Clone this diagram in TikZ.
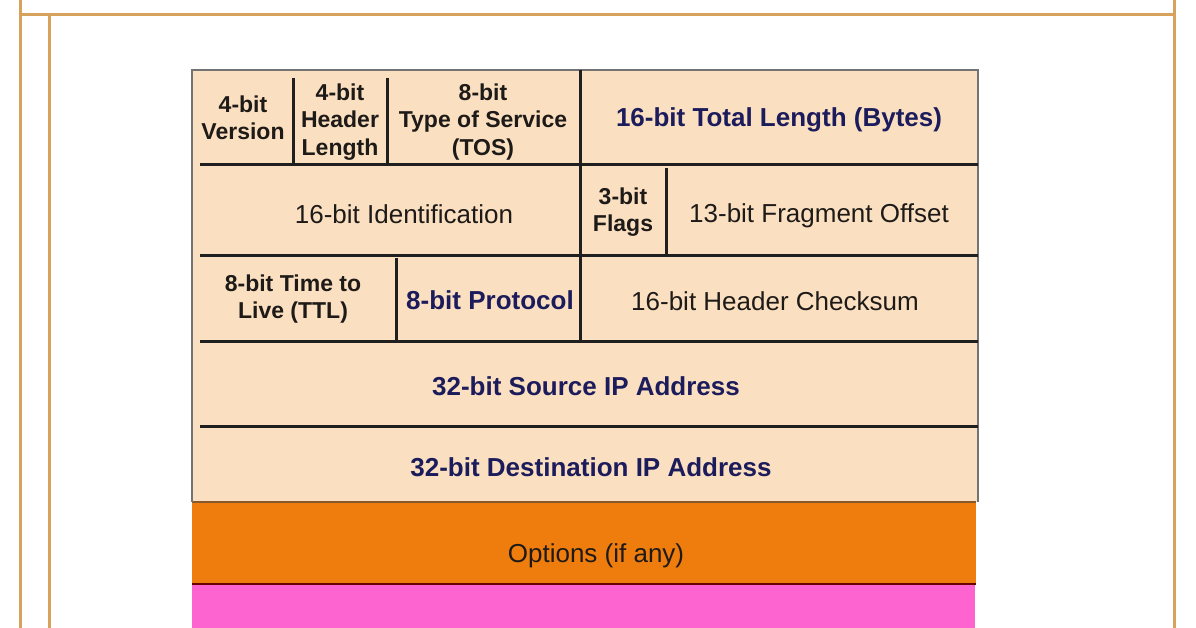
\documentclass[tikz,border=0pt]{standalone}
\usepackage{fontspec}
\setmainfont{Liberation Sans}
\definecolor{hdrfill}{RGB}{250,224,193}
\definecolor{optfill}{RGB}{239,125,14}
\definecolor{padfill}{RGB}{254,100,208}
\definecolor{framecol}{RGB}{215,162,92}
\definecolor{navytext}{RGB}{28,28,92}
\definecolor{darktext}{RGB}{30,26,24}
\begin{document}
\begin{tikzpicture}[x=1pt,y=-1pt,
    frame/.style={draw=framecol,line width=3pt},
    sep/.style={draw=black!88,line width=3pt},
    edge/.style={draw=black!55,line width=2pt},
    plain/.style={inner sep=0pt,text=darktext,font=\fontsize{26}{30}\selectfont},
    navy/.style={inner sep=0pt,text=navytext,font=\bfseries\fontsize{26}{30}\selectfont},
    small/.style={inner sep=0pt,text=darktext,align=center,font=\bfseries\fontsize{23}{27.5}\selectfont}]
  \useasboundingbox (0,0) rectangle (1196,628);
  % page frame
  \draw[frame] (20,0) -- (20,628);
  \draw[frame] (1174,0) -- (1174,628);
  \draw[frame] (20,15) -- (1174,15);
  \draw[frame] (49,15) -- (49,628);
  % fields
  \fill[hdrfill] (192,70) rectangle (978,502);
  \fill[optfill] (192,502) rectangle (976,584);
  \fill[padfill] (192,585) rectangle (975,628);
  \draw[draw=brown!70!black,line width=1.5pt] (192,502) -- (976,502);
  \draw[draw=red!40!black,line width=2pt] (192,584) -- (976,584);
  \draw[edge] (192,502) -- (192,70) -- (978,70) -- (978,502);
  % row lines
  \foreach \y in {165,256,341,426}
    \draw[sep] (200,\y) -- (978,\y);
  \draw[sep] (293,78) -- (293,165);
  \draw[sep] (387,78) -- (387,165);
  \draw[sep] (580,70) -- (580,256);
  \draw[sep] (666,168) -- (666,256);
  \draw[sep] (396,258) -- (396,341);
  \draw[sep] (580,256) -- (580,341);
  % labels
  \draw
    (243,118) node[small] (ver) {4-bit\\Version}
    (340,122) node[small] (ihl) {4-bit\\Header\\Length}
    (483,122) node[small] (tos) {8-bit\\Type of Service\\(TOS)}
    (779,120) node[navy] (len) {16-bit Total Length (Bytes)}
    (404,214) node[plain] (ident) {16-bit Identification}
    (623,212) node[small] (flags) {3-bit\\Flags}
    (819,216) node[plain] (frag) {13-bit Fragment Offset}
    (293,299) node[small] (ttl) {8-bit Time to\\Live (TTL)}
    (490,300) node[navy] (proto) {8-bit Protocol}
    (775,301) node[plain] (csum) {16-bit Header Checksum}
    (586,386) node[navy] (src) {32-bit Source IP Address}
    (591,467) node[navy] (dst) {32-bit Destination IP Address}
    (596,556) node[plain] (opt) {Options (if any)};
\end{tikzpicture}
\end{document}
